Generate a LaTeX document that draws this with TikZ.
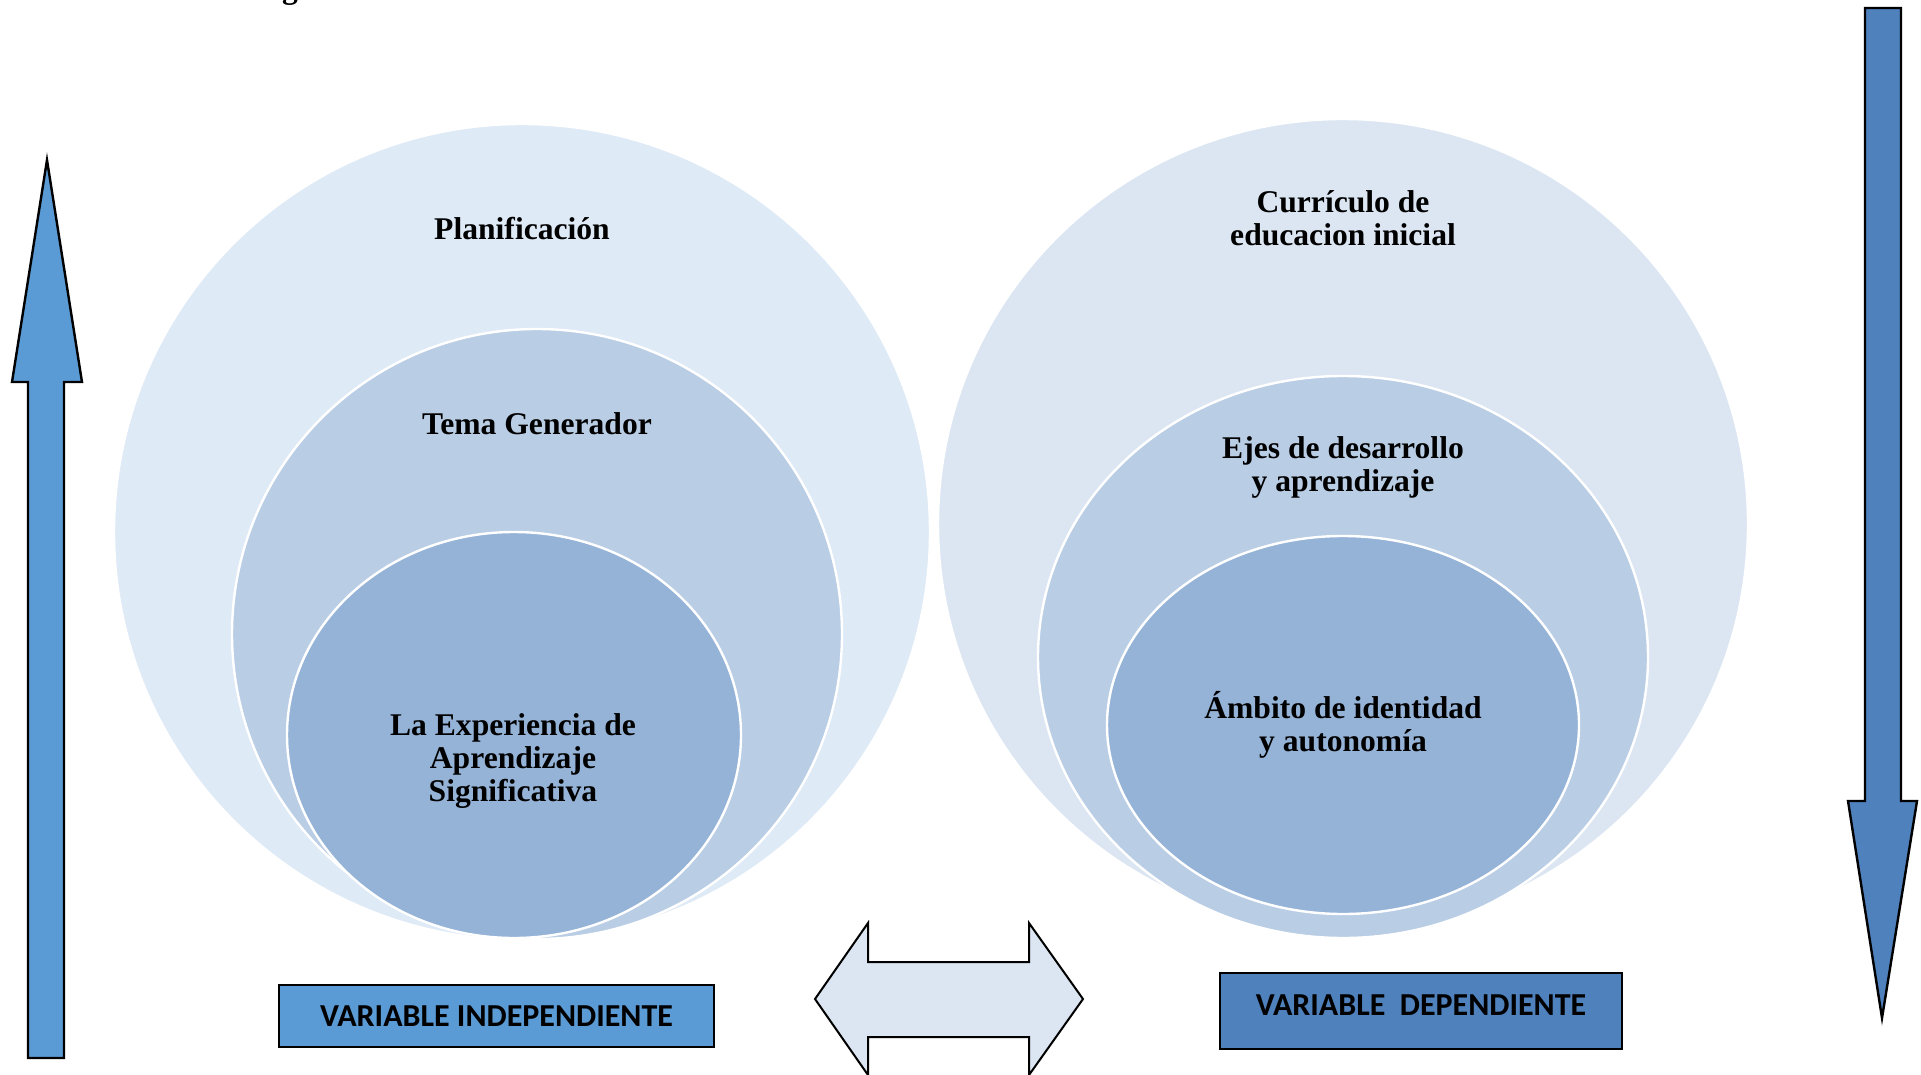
\documentclass[tikz,border=0pt]{standalone}
\usepackage{fontspec}
\setmainfont{Liberation Serif}
\newfontfamily\calib{Carlito}
\definecolor{outerL}{HTML}{DEEAF6}
\definecolor{outerR}{HTML}{DCE6F2}
\definecolor{midC}{HTML}{B9CDE5}
\definecolor{innerC}{HTML}{95B3D7}
\definecolor{blueL}{HTML}{5B9BD5}
\definecolor{blueR}{HTML}{4F81BD}
\definecolor{dblC}{HTML}{DCE6F2}
\begin{document}
\begin{tikzpicture}[x=0.5pt,y=-0.5pt,
  ring/.style={draw=white,line width=1.2pt},
  lbl/.style={font=\fontsize{15.8}{16.5}\selectfont\bfseries,align=center,inner sep=0pt},
  arrowshape/.style={draw=black,line width=1.2pt,line join=miter},
  varbox/.style={draw=black,line width=1pt,font=\calib\fontsize{16}{19}\selectfont\bfseries,inner sep=0pt}]
\useasboundingbox (0,0) rectangle (1921,1075);
% fragment of caption at top
\node[anchor=base,font=\fontsize{15.8}{16.5}\selectfont\bfseries,inner sep=0pt] (cap) at (290,-1) {g};
% left circles
\fill[outerL,ring] (522,532) ellipse [x radius=408,y radius=408];
\fill[midC,ring] (537,634) ellipse [x radius=305,y radius=305];
\fill[innerC,ring] (514,735) ellipse [x radius=227,y radius=203];
% right circles
\fill[outerR,ring] (1343,524) ellipse [x radius=405,y radius=405];
\fill[midC,ring] (1343,657) ellipse [x radius=305,y radius=281];
\fill[innerC,ring] (1343,725) ellipse [x radius=236,y radius=189];
% labels
\node[lbl] (plan) at (522,229) {Planificación};
\node[lbl] (tema) at (537,424) {Tema Generador};
\node[lbl] (exp) at (513,761) {La Experiencia de\\Aprendizaje\\Significativa};
\node[lbl] (curr) at (1343,218) {Currículo de\\educacion inicial};
\node[lbl] (ejes) at (1343,467) {Ejes de desarrollo\\y aprendizaje};
\node[lbl] (amb) at (1343,725) {Ámbito de identidad\\y autonomía};
% left up arrow
\filldraw[fill=blueL,arrowshape] (47,160) -- (82,382) -- (64,382) -- (64,1058) -- (28,1058) -- (28,382) -- (12,382) -- cycle;
% right down arrow
\filldraw[fill=blueR,arrowshape] (1865,8) -- (1901,8) -- (1901,801) -- (1917,801) -- (1882,1018) -- (1848,801) -- (1865,801) -- cycle;
% double arrow
\filldraw[fill=dblC,draw=black,line width=1pt] (815,999) -- (868,923) -- (868,962) -- (1029,962) -- (1029,923) -- (1083,999) -- (1029,1075) -- (1029,1037) -- (868,1037) -- (868,1075) -- cycle;
% variable boxes
\node[varbox,fill=blueL,minimum width=217.5pt,minimum height=31pt] (vi) at (496.5,1016) {VARIABLE INDEPENDIENTE};
\node[varbox,fill=blueR,minimum width=201pt,minimum height=38pt,text depth=6pt] (vd) at (1421,1011) {VARIABLE\ \ DEPENDIENTE};
\end{tikzpicture}
\end{document}
